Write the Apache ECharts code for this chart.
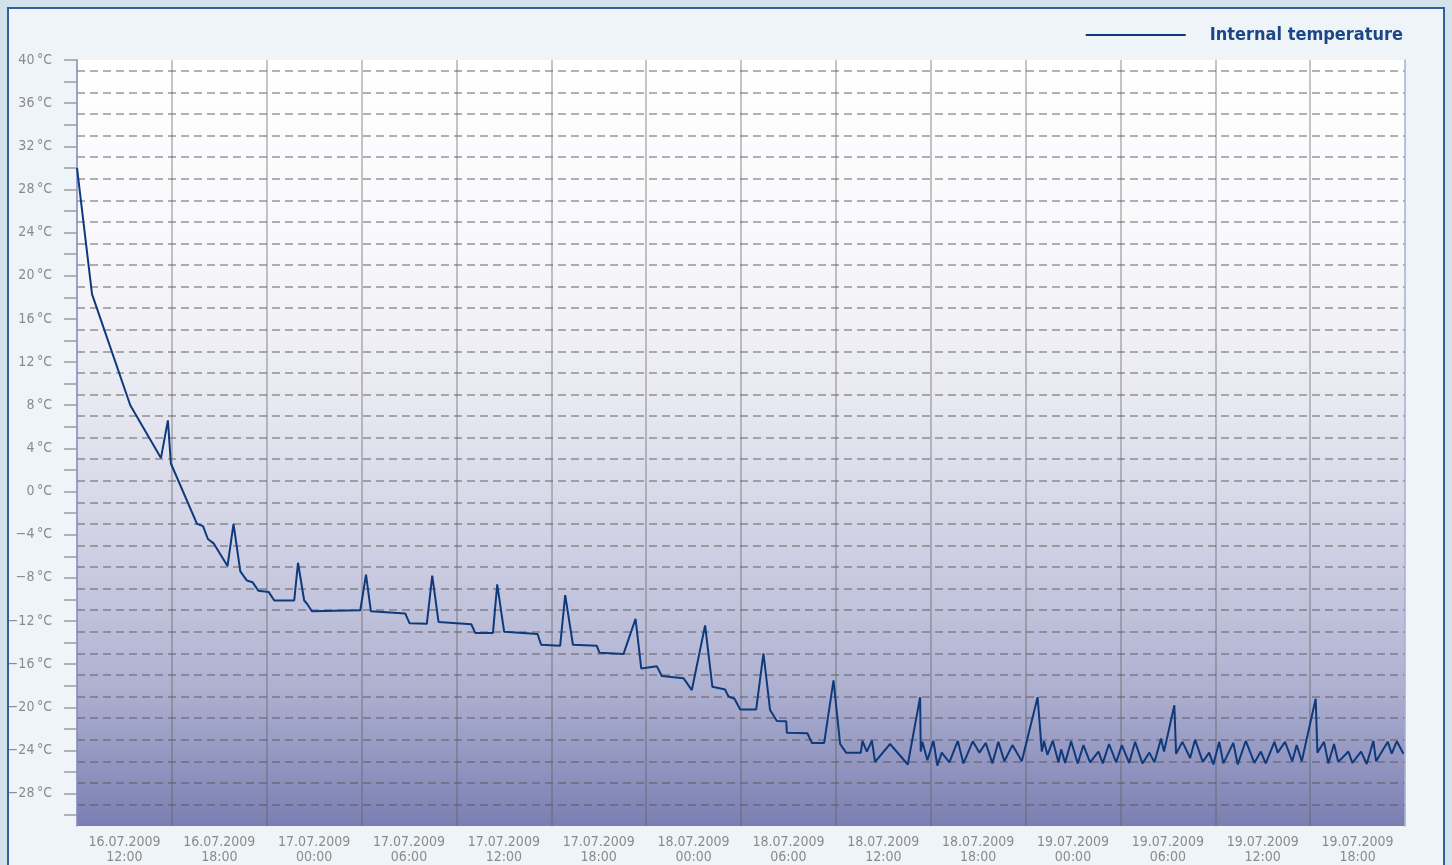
<!DOCTYPE html>
<html>
<head>
<meta charset="utf-8">
<script src="https://cdn.jsdelivr.net/npm/echarts@6/dist/echarts.min.js"></script>
<style>
  html, body { margin: 0; padding: 0; width: 1452px; height: 865px; overflow: hidden; background: #d2e1ea; }
  #panel { position: absolute; left: 7px; top: 7px; width: 1438px; height: 900px; background: #eff4f8; border: 2px solid #2f629a; box-sizing: border-box; }
  #chart { position: absolute; left: 0; top: 0; width: 1452px; height: 865px; }
</style>
</head>
<body>
<div id="panel"></div>
<div id="chart"></div>
<script>
// Hours since 16.07.2009 09:00 (left edge of the plot)
const hours = [0, 0.95, 3.37, 5.31, 5.75, 5.94, 7.59, 7.97, 8.28, 8.64, 9.52, 9.90, 10.33, 10.75, 11.10, 11.48, 12.12, 12.48,
  13.74, 13.98, 14.37, 14.55, 14.86, 17.92, 18.28, 18.59, 20.76, 21.03, 22.13, 22.47, 22.87, 24.94, 25.19, 26.31, 26.58,
  27.02, 29.13, 29.36, 30.56, 30.88, 31.37, 32.88, 33.05, 34.57, 35.33, 35.69, 36.68, 36.99, 38.36, 38.89, 39.73, 40.19,
  40.99, 41.21, 41.59, 41.95, 42.96, 43.42, 43.84, 44.27, 44.86, 44.90, 46.20, 46.48, 47.26, 47.85, 48.27, 48.65, 49.58,
  49.68, 49.96, 50.28, 50.48, 51.43, 52.55, 53.33, 53.37, 53.47, 53.79, 54.17, 54.42, 54.70, 55.18, 55.71, 56.07, 56.66,
  57.08, 57.48, 57.90, 58.28, 58.66, 59.17, 59.76, 60.76, 61.03, 61.17, 61.38, 61.72, 62.08, 62.25, 62.50, 62.88, 63.30,
  63.66, 64.08, 64.61, 64.88, 65.28, 65.73, 66.09, 66.55, 66.93, 67.39, 67.83, 68.15, 68.57, 68.76, 69.41, 69.52, 69.92,
  70.41, 70.72, 71.21, 71.61, 71.88, 72.25, 72.51, 73.14, 73.42, 73.93, 74.47, 74.88, 75.19, 75.74, 75.95, 76.41, 76.87,
  77.15, 77.47, 78.35, 78.46, 78.88, 79.15, 79.51, 79.78, 80.42, 80.67, 81.22, 81.58, 82.00, 82.17, 82.91, 83.16, 83.48, 83.90];

const temperatures = [30.0, 18.3, 8.0, 3.1, 6.6, 2.6, -3.0, -3.2, -4.4, -4.8, -6.9, -3.0, -7.4, -8.25, -8.4, -9.2, -9.3, -10.1,
  -10.1, -6.6, -10.1, -10.4, -11.1, -11.0, -7.7, -11.1, -11.3, -12.2, -12.25, -7.8, -12.1, -12.3, -13.1, -13.1, -8.6,
  -13.0, -13.2, -14.2, -14.3, -9.6, -14.2, -14.3, -14.95, -15.05, -11.8, -16.4, -16.2, -17.1, -17.3, -18.4, -12.4, -18.1,
  -18.35, -19.0, -19.2, -20.2, -20.2, -15.0, -20.25, -21.26, -21.3, -22.35, -22.4, -23.3, -23.3, -17.5, -23.4, -24.2, -24.2,
  -23.1, -24.1, -23.1, -25.06, -23.4, -25.3, -19.06, -24.1, -23.2, -24.9, -23.1, -25.4, -24.2, -25.1, -23.1, -25.2, -23.15,
  -24.2, -23.3, -25.2, -23.2, -25.0, -23.5, -25.0, -19.06, -24.1, -23.15, -24.4, -23.1, -25.1, -23.9, -25.15, -23.15, -25.2,
  -23.5, -25.1, -24.1, -25.2, -23.4, -25.1, -23.5, -25.15, -23.2, -25.2, -24.2, -25.1, -22.9, -24.1, -19.8, -24.3, -23.2,
  -24.7, -23.0, -25.06, -24.2, -25.3, -23.2, -25.2, -23.3, -25.3, -23.1, -25.15, -24.1, -25.2, -23.2, -24.2, -23.2, -25.0,
  -23.5, -25.0, -19.2, -24.2, -23.2, -25.2, -23.4, -25.06, -24.1, -25.15, -24.1, -25.25, -23.1, -25.0, -23.2, -24.3, -23.15, -24.3];

const seriesName = 'Internal temperature';

// X axis: 14 six-hour bands, labels centred in each band
const dateLabels = ['16.07.2009', '16.07.2009', '17.07.2009', '17.07.2009', '17.07.2009', '17.07.2009', '18.07.2009',
  '18.07.2009', '18.07.2009', '18.07.2009', '19.07.2009', '19.07.2009', '19.07.2009', '19.07.2009'];
const timeLabels = ['12:00', '18:00', '00:00', '06:00', '12:00', '18:00', '00:00', '06:00', '12:00', '18:00',
  '00:00', '06:00', '12:00', '18:00'];
const xLabelPositions = [3, 9, 15, 21, 27, 33, 39, 45, 51, 57, 63, 69, 75, 81];
const xBandEdges = [6, 12, 18, 24, 30, 36, 42, 48, 54, 60, 66, 72, 78];

// Y axis
const yLabelValues = [-28, -24, -20, -16, -12, -8, -4, 0, 4, 8, 12, 16, 20, 24, 28, 32, 36, 40];
const yTickValues = [-30, -28, -26, -24, -22, -20, -18, -16, -14, -12, -10, -8, -6, -4, -2, 0, 2, 4, 6, 8, 10,
  12, 14, 16, 18, 20, 22, 24, 26, 28, 30, 32, 34, 36, 38, 40];
const yDashValues = [-29, -27, -25, -23, -21, -19, -17, -15, -13, -11, -9, -7, -5, -3, -1, 1, 3, 5, 7, 9, 11,
  13, 15, 17, 19, 21, 23, 25, 27, 29, 31, 33, 35, 37, 39];

const FONT = "'Liberation Sans Narrow', 'DejaVu Sans Condensed', 'Roboto Condensed', sans-serif";
const Y_MIN = -31, Y_MAX = 40;

const chart = echarts.init(document.getElementById('chart'), null, { renderer: 'canvas' });

chart.setOption({
  backgroundColor: 'transparent',
  animation: false,
  legend: {
    right: 44,
    top: 21,
    icon: 'rect',
    itemWidth: 100,
    itemHeight: 2,
    itemGap: 24,
    textStyle: { color: '#1b4787', fontSize: 18, fontWeight: 'bold', fontFamily: FONT, padding: [0, 0, 0, 19] },
    data: [seriesName]
  },
  grid: {
    left: 77, top: 60, right: 47, bottom: 35,
    show: true,
    borderWidth: 0,
    backgroundColor: new echarts.graphic.LinearGradient(0, 0, 0, 1, [
      { offset: 0, color: '#ffffff' },
      { offset: 0.25, color: '#f8f8fb' },
      { offset: 0.45, color: '#e8e8f1' },
      { offset: 0.65, color: '#cdcee3' },
      { offset: 0.82, color: '#aeb0d0' },
      { offset: 1, color: '#7a7fb2' }
    ])
  },
  xAxis: {
    type: 'value',
    min: 0,
    max: 84,
    axisLine: { show: false },
    axisTick: { show: false, customValues: xBandEdges },
    splitLine: { show: true, lineStyle: { color: 'rgba(95,95,95,0.48)', width: 1.5, type: 'solid' } },
    axisLabel: {
      customValues: xLabelPositions,
      margin: 9,
      color: '#8a8a8a',
      fontSize: 14,
      lineHeight: 15,
      fontFamily: FONT,
      formatter: function (v) {
        const i = xLabelPositions.indexOf(v);
        return i >= 0 ? dateLabels[i] + '\n' + timeLabels[i] : '';
      }
    }
  },
  yAxis: [
    {
      type: 'value',
      position: 'left',
      min: Y_MIN,
      max: Y_MAX,
      axisLine: { show: true, lineStyle: { color: '#7f86c2', width: 1.5 } },
      axisTick: { show: true, customValues: yTickValues, length: 13, lineStyle: { color: '#9c9c9c', width: 1.5 } },
      splitLine: { show: false },
      axisLabel: {
        customValues: yLabelValues,
        margin: 25,
        color: '#8a8a8a',
        fontSize: 14,
        fontFamily: FONT,
        formatter: function (v) {
          return (v < 0 ? '\u2212' + Math.abs(v) : String(v)) + '\u2009°C';
        }
      }
    },
    {
      type: 'value',
      position: 'left',
      min: Y_MIN,
      max: Y_MAX,
      axisLine: { show: false },
      axisTick: { show: false, customValues: yDashValues },
      axisLabel: { show: false },
      splitLine: { show: true, lineStyle: { color: 'rgba(85,85,85,0.6)', width: 1.5, type: [8, 5] } }
    },
    {
      type: 'value',
      position: 'right',
      min: Y_MIN,
      max: Y_MAX,
      axisLine: { show: true, lineStyle: { color: '#a9acd4', width: 1.5 } },
      axisTick: { show: false },
      axisLabel: { show: false },
      splitLine: { show: false }
    }
  ],
  series: [
    {
      name: seriesName,
      type: 'line',
      yAxisIndex: 0,
      symbol: 'none',
      showSymbol: false,
      color: '#0e3a7c',
      lineStyle: { color: '#0e3a7c', width: 2 },
      data: hours.map((h, i) => [h, temperatures[i]]),
      z: 5
    }
  ]
});
</script>
</body>
</html>
